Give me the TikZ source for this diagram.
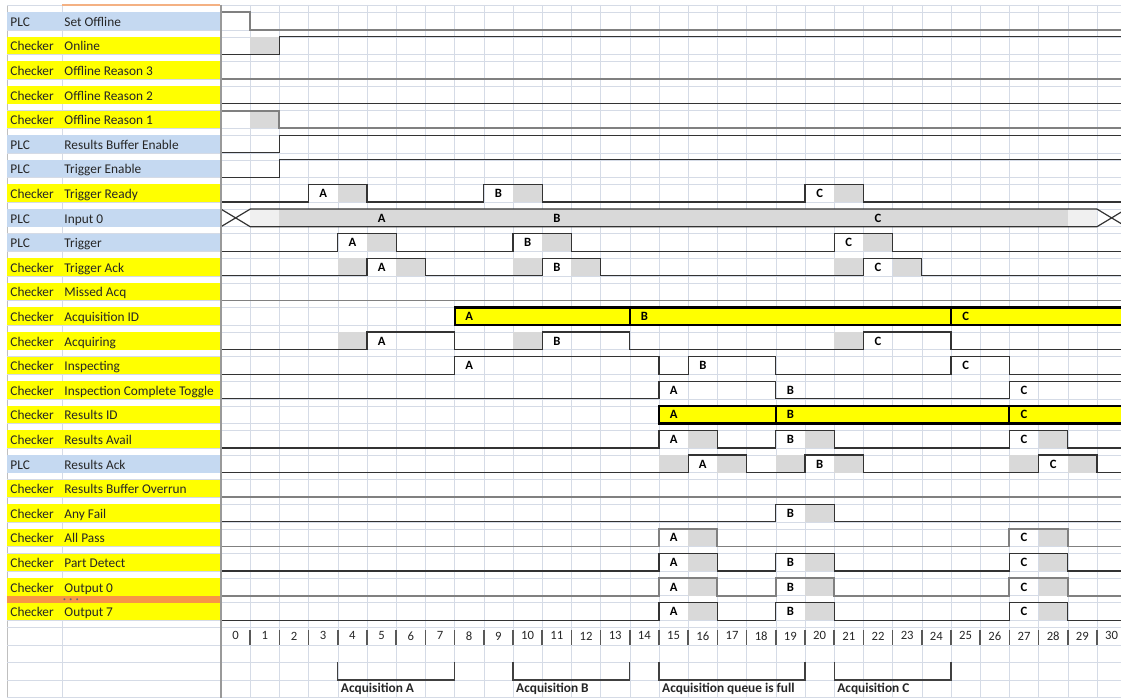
\documentclass[tikz,border=0pt]{standalone}
\usepackage{fontspec}
\setmainfont{Carlito}

\definecolor{plcblue}{HTML}{C5D9F1}
\definecolor{chkyellow}{HTML}{FFFF00}
\definecolor{sheetgrid}{HTML}{D5DBE6}
\definecolor{dotorange}{HTML}{F79646}
\definecolor{hdrorange}{HTML}{F4B183}
\definecolor{unkgray}{HTML}{D9D9D9}
\definecolor{unklight}{HTML}{F0F0F0}
\definecolor{celltext}{HTML}{262626}

\begin{document}
\begin{tikzpicture}[
        x=0.75pt,   % 1 unit = 1 pixel of the sheet
        y=-0.75pt,  % y runs downwards
        sig/.style={draw=black!80, line width=0.9pt},
        sigg/.style={draw=black!50, line width=1.4pt},
        busbox/.style={fill=chkyellow, draw=black, line width=1.6pt},
        wavelbl/.style={font=\fontsize{9.5}{10}\selectfont\bfseries, inner sep=0pt},
        celllbl/.style={anchor=base west, font=\fontsize{10}{12}\selectfont, text=celltext, inner sep=0pt},
        bracket/.style={draw=black!75, line width=1pt},
    ]

    \useasboundingbox (0,0) rectangle (1121,698);
    \clip (0,0) rectangle (1121,698);

    % Sheet borders in the label area
    \draw[black!25] (7,5) -- (7,698);
    \draw[sheetgrid] (62,5) -- (62,698);
    \draw[sheetgrid] (7,5) -- (1121,5);
    \draw[hdrorange, line width=1pt] (62,5) -- (220,5);

    % Waveform area: 1 unit = one clock column / one signal row
    \begin{scope}[shift={(221,12.3)}, x=21.9pt, y=-18.45pt]

    \def\xe{30.83}

    % Grid lines
    \foreach \k in {1,...,30} {
        \draw[sheetgrid] (\k,-0.3) -- (\k,28);
    }
    \foreach \r in {0,...,25} {
        \draw[sheetgrid] (-7.33,\r) -- (\xe,\r);
        \draw[sheetgrid] (-7.33,{\r+.715}) -- (\xe,{\r+.715});
    }
    \foreach \r in {26.43, 27.14, 27.85} {
        \draw[sheetgrid] (-7.33,\r) -- (\xe,\r);
    }

    % Signal names (source / signal)
    \foreach \r/\fc/\src/\name in {
        0/plcblue/PLC/Set Offline,
        1/chkyellow/Checker/Online,
        2/chkyellow/Checker/Offline Reason 3,
        3/chkyellow/Checker/Offline Reason 2,
        4/chkyellow/Checker/Offline Reason 1,
        5/plcblue/PLC/Results Buffer Enable,
        6/plcblue/PLC/Trigger Enable,
        7/chkyellow/Checker/Trigger Ready,
        8/plcblue/PLC/Input 0,
        9/plcblue/PLC/Trigger,
        10/chkyellow/Checker/Trigger Ack,
        11/chkyellow/Checker/Missed Acq,
        12/chkyellow/Checker/Acquisition ID,
        13/chkyellow/Checker/Acquiring,
        14/chkyellow/Checker/Inspecting,
        15/chkyellow/Checker/Inspection Complete Toggle,
        16/chkyellow/Checker/Results ID,
        17/chkyellow/Checker/Results Avail,
        18/plcblue/PLC/Results Ack,
        19/chkyellow/Checker/Results Buffer Overrun,
        20/chkyellow/Checker/Any Fail,
        21/chkyellow/Checker/All Pass,
        22/chkyellow/Checker/Part Detect,
        23/chkyellow/Checker/Output 0,
        24/chkyellow/Checker/Output 7} {
        \fill[\fc] (-7.33,\r) rectangle (-0.03,{\r+.715});
        \node[celllbl] (src-\r) at (-7.22,{\r+.57}) {\src};
        \node[celllbl] (name-\r) at (-5.37,{\r+.57}) {\name};
    }

    % Orange separator row between Output 0 and Output 7
    \fill[dotorange] (-7.33,23.715) rectangle (-0.03,24);
    \node[anchor=base, font=\fontsize{10}{10}\selectfont, text=black!60, inner sep=0pt] (dots) at (-5.14,24.03) {· · ·};

    % Undefined (gray) cells
    \foreach \r/\c in {1/1, 4/1, 7/4, 7/10, 7/21, 9/5, 9/11, 9/22,
                       10/4, 10/6, 10/10, 10/12, 10/21, 10/23,
                       13/4, 13/10, 13/21, 17/16, 17/20, 17/28,
                       18/15, 18/17, 18/19, 18/21, 18/27, 18/29,
                       20/20, 21/16, 21/28, 22/16, 22/20, 22/28,
                       23/16, 23/20, 23/28, 24/16, 24/20, 24/28} {
        \fill[unkgray] (\c,\r) rectangle ({\c+1},{\r+.715});
    }

    % Input 0 bus
    \fill[unklight] (1,8) rectangle (2,8.715);
    \fill[unkgray] (2,8) rectangle (29,8.715);
    \fill[unklight] (29,8) rectangle (30,8.715);
    \draw[sig] (0,8) -- (1,8.715) -- (30,8.715) -- (31,8);
    \draw[sig] (0,8.715) -- (1,8) -- (30,8) -- (31,8.715);

    % Single bit signals
    \draw[sigg] (0,0) -| (1,.715) -- (\xe,.715);
    \draw[sig] (0,1.715) -| (2,1) -- (\xe,1);
    \draw[sigg] (0,2.715) -- (\xe,2.715);
    \draw[sig] (0,3.715) -- (\xe,3.715);
    \draw[sigg] (0,4) -| (2,4.715) -- (\xe,4.715);
    \draw[sig] (0,5.715) -| (2,5) -- (\xe,5);
    \draw[sig] (0,6.715) -| (2,6) -- (\xe,6);
    \draw[sig] (0,7.715) -| (3,7) -| (5,7.715) -| (9,7) -| (11,7.715) -| (20,7) -| (22,7.715) -- (\xe,7.715);
    \draw[sig] (0,9.715) -| (4,9) -| (6,9.715) -| (10,9) -| (12,9.715) -| (21,9) -| (23,9.715) -- (\xe,9.715);
    \draw[sig] (0,10.715) -| (5,10) -| (7,10.715) -| (11,10) -| (13,10.715) -| (22,10) -| (24,10.715) -- (\xe,10.715);
    \draw[sigg] (0,11.715) -- (\xe,11.715);
    \draw[sig] (0,13.715) -| (5,13) -| (8,13.715) -| (11,13) -| (14,13.715) -| (22,13) -| (25,13.715) -- (\xe,13.715);
    \draw[sig] (0,14.715) -| (8,14) -| (15,14.715) -| (16,14) -| (19,14.715) -| (25,14) -| (27,14.715) -- (\xe,14.715);
    \draw[sig] (0,15.715) -| (15,15) -| (19,15.715) -| (27,15) -- (\xe,15);
    \foreach \r in {17, 22, 24} {
        \draw[sig] (0,{\r+.715}) -| (15,\r) -| (17,{\r+.715}) -| (19,\r) -| (21,{\r+.715}) -| (27,\r) -| (29,{\r+.715}) -- (\xe,{\r+.715});
    }
    \draw[sigg] (0,23.715) -| (15,23) -| (17,23.715) -| (19,23) -| (21,23.715) -| (27,23) -| (29,23.715) -- (\xe,23.715);
    \draw[sig] (0,18.715) -| (16,18) -| (18,18.715) -| (20,18) -| (22,18.715) -| (28,18) -| (30,18.715) -- (\xe,18.715);
    \draw[sigg] (0,19.715) -- (\xe,19.715);
    \draw[sig] (0,20.715) -| (19,20) -| (21,20.715) -- (\xe,20.715);
    \draw[sigg] (0,21.715) -| (15,21) -| (17,21.715) -| (27,21) -| (29,21.715) -- (\xe,21.715);

    % ID buses
    \draw[busbox] (8,12) rectangle (14,12.715);
    \draw[busbox] (14,12) rectangle (25,12.715);
    \draw[busbox] (25,12) rectangle (31.5,12.715);
    \draw[busbox] (15,16) rectangle (19,16.715);
    \draw[busbox] (19,16) rectangle (27,16.715);
    \draw[busbox] (27,16) rectangle (31.5,16.715);

    % Acquisition letters
    \foreach \r/\c/\t in {7/3/A, 7/9/B, 7/20/C, 8/5/A, 8/11/B, 8/22/C,
                          9/4/A, 9/10/B, 9/21/C, 10/5/A, 10/11/B, 10/22/C,
                          12/8/A, 12/14/B, 12/25/C, 13/5/A, 13/11/B, 13/22/C,
                          14/8/A, 14/16/B, 14/25/C, 15/15/A, 15/19/B, 15/27/C,
                          16/15/A, 16/19/B, 16/27/C, 17/15/A, 17/19/B, 17/27/C,
                          18/16/A, 18/20/B, 18/28/C, 20/19/B, 21/15/A, 21/27/C,
                          22/15/A, 22/19/B, 22/27/C, 23/15/A, 23/19/B, 23/27/C,
                          24/15/A, 24/19/B, 24/27/C} {
        \node[wavelbl] (l\r-\c) at ({\c+.5},{\r+.36}) {\t};
    }

    % Divider between names and waveforms
    \draw[black!40, line width=1.3pt] (0,-0.3) -- (0,28);

    % Clock numbers
    \foreach \k in {0,...,30} {
        \node[font=\fontsize{9.5}{10}\selectfont, text=celltext, inner sep=0pt] (t\k) at ({\k+.5},25.35) {\k};
    }
    \foreach \k in {1,...,30} {
        \draw[black!65, line width=1.2pt] (\k,25.1) -- (\k,25.72);
    }

    % Phase brackets
    \draw[bracket] (4,26.43) |- (8,27.14) -- (8,26.43);
    \draw[bracket] (10,26.43) |- (14,27.14) -- (14,26.43);
    \draw[bracket] (15,26.43) |- (20,27.14) -- (20,26.43);
    \draw[bracket] (21,26.43) |- (25,27.14) -- (25,26.43);
    \node[celllbl, font=\fontsize{10}{12}\selectfont\bfseries] (acqA) at (4.1,27.67) {Acquisition A};
    \node[celllbl, font=\fontsize{10}{12}\selectfont\bfseries] (acqB) at (10.1,27.67) {Acquisition B};
    \node[celllbl, font=\fontsize{10}{12}\selectfont\bfseries] (acqFull) at (15.1,27.67) {Acquisition queue is full};
    \node[celllbl, font=\fontsize{10}{12}\selectfont\bfseries] (acqC) at (21.1,27.67) {Acquisition C};

    \end{scope}

\end{tikzpicture}
\end{document}
